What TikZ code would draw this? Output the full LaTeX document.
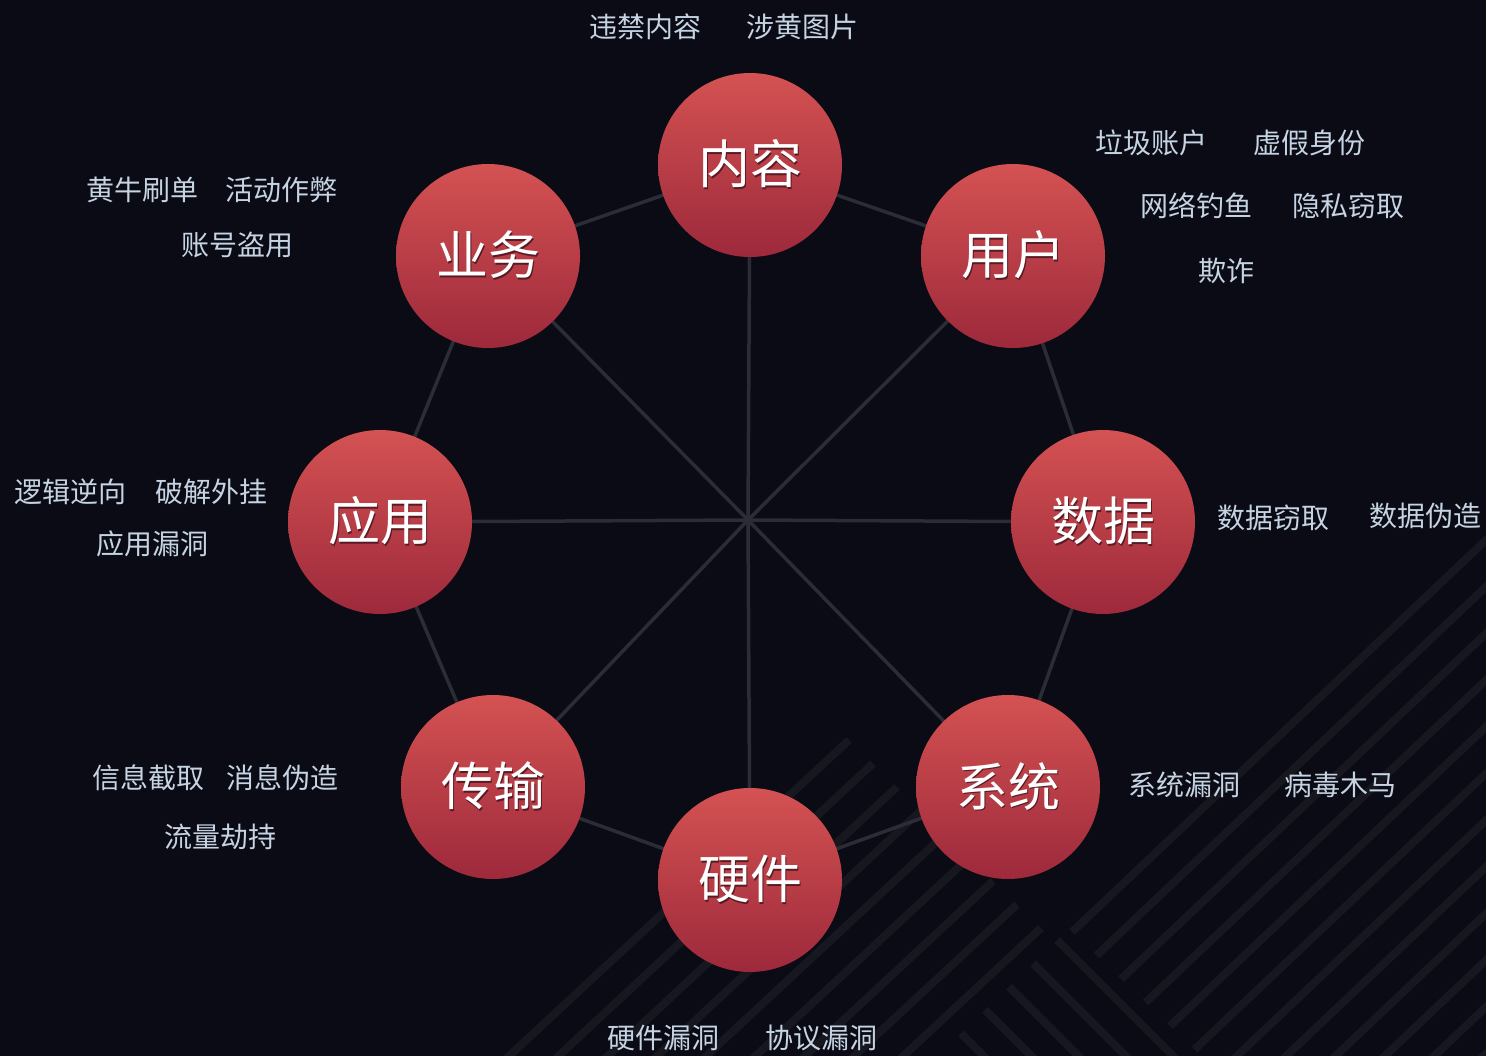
\documentclass[tikz,border=0pt]{standalone}
\usepackage{fontspec}
\newfontfamily\cjk{Noto Sans CJK SC}
\usetikzlibrary{backgrounds}
\definecolor{bgc}{HTML}{0A0B14}
\definecolor{stripec}{HTML}{16171F}
\definecolor{wirec}{HTML}{2B2C36}
\definecolor{redtop}{HTML}{D45252}
\definecolor{redbot}{HTML}{9D293B}
\definecolor{labelc}{HTML}{C5D3E3}
\definecolor{shadowc}{HTML}{5A1A24}
\newcommand{\shtext}[1]{\rlap{\kern1.8pt\raisebox{-1.8pt}{\textcolor{shadowc}{#1}}}#1}
\pgfdeclarelayer{back}
\pgfdeclarelayer{wires}
\pgfsetlayers{back,wires,main}
\begin{document}
\begin{tikzpicture}[x=1pt,y=-1pt,
  ball/.style={circle, minimum size=184pt, inner sep=0pt, top color=redtop, bottom color=redbot,
    font=\cjk\fontsize{52}{52}\selectfont, text=white},
  lbl/.style={inner sep=0pt, anchor=center, font=\cjk\fontsize{28}{28}\selectfont, text=labelc},
  wire/.style={draw=wirec, line width=3.5pt},
  stripe/.style={draw=stripec, line width=8pt, line cap=butt}]
\useasboundingbox (0,0) rectangle (1486,1055);

% circles
\node[ball] (nr) at (750,165) {\shtext{内容}};
\node[ball] (yw) at (488,256) {\shtext{业务}};
\node[ball] (yh) at (1013,256) {\shtext{用户}};
\node[ball] (yy) at (380,522) {\shtext{应用}};
\node[ball] (sj) at (1103,522) {\shtext{数据}};
\node[ball] (cs) at (493,787) {\shtext{传输}};
\node[ball] (xt) at (1008,787) {\shtext{系统}};
\node[ball] (yj) at (750,880) {\shtext{硬件}};
\coordinate (hub) at (748,520);

% labels
\node[lbl] (l1) at (645,27) {违禁内容};
\node[lbl] (l2) at (802,27) {涉黄图片};
\node[lbl] (l3) at (1151,143) {垃圾账户};
\node[lbl] (l4) at (1309,143) {虚假身份};
\node[lbl] (l5) at (1196,206) {网络钓鱼};
\node[lbl] (l6) at (1348,206) {隐私窃取};
\node[lbl] (l7) at (1226,271) {欺诈};
\node[lbl] (l8) at (142,190) {黄牛刷单};
\node[lbl] (l9) at (281,190) {活动作弊};
\node[lbl] (l10) at (237,245) {账号盗用};
\node[lbl] (l11) at (70,492) {逻辑逆向};
\node[lbl] (l12) at (211,492) {破解外挂};
\node[lbl] (l13) at (152,544) {应用漏洞};
\node[lbl] (l14) at (1273,518) {数据窃取};
\node[lbl] (l15) at (1425,516) {数据伪造};
\node[lbl] (l16) at (148,778) {信息截取};
\node[lbl] (l17) at (282,778) {消息伪造};
\node[lbl] (l18) at (220,837) {流量劫持};
\node[lbl] (l19) at (1184,785) {系统漏洞};
\node[lbl] (l20) at (1340,785) {病毒木马};
\node[lbl] (l21) at (663,1038) {硬件漏洞};
\node[lbl] (l22) at (821,1038) {协议漏洞};

% connectors
\begin{pgfonlayer}{wires}
  \foreach \n in {nr,yw,yh,yy,sj,cs,xt,yj}
    \draw[wire] (hub) -- (\n.center);
  \draw[wire] (nr.center) -- (yw.center);
  \draw[wire] (nr.center) -- (yh.center);
  \draw[wire] (yw.center) -- (yy.center);
  \draw[wire] (yh.center) -- (sj.center);
  \draw[wire] (yy.center) -- (cs.center);
  \draw[wire] (sj.center) -- (xt.center);
  \draw[wire] (cs.center) -- (yj.center);
  \draw[wire] (xt.center) -- (yj.center);
\end{pgfonlayer}

% background and stripes
\begin{pgfonlayer}{back}
  \fill[bgc] (-10,-10) rectangle (1496,1065);
  \begin{scope}
    \clip (-10,-10) rectangle (1496,1065);
    \foreach \k in {0,...,8}
      \draw[stripe] ({849+24*\k},{740+23.5*\k}) -- ++(-400,372);
    \foreach \k in {0,...,11}
      \draw[stripe] ({1072+24.5*\k},{932+23.5*\k}) -- ++(600,-568);
    \foreach \k in {0,...,4}
      \draw[stripe] ({1057-24*\k},{940+23.3*\k}) -- ++(200,200);
  \end{scope}
\end{pgfonlayer}
\end{tikzpicture}
\end{document}
